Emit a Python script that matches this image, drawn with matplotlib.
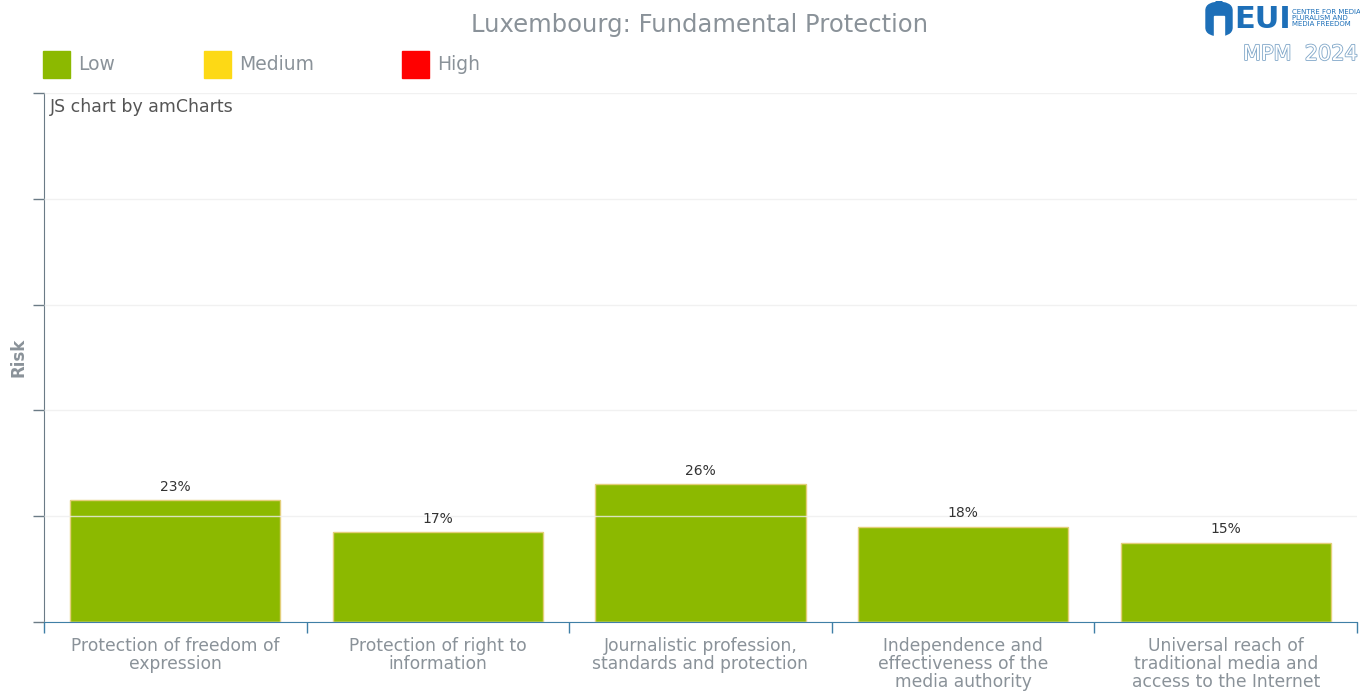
import matplotlib
matplotlib.use('agg')

import matplotlib.pyplot as plt
import matplotlib.ticker as ticker
import matplotlib.patches as mpatches
import matplotlib.patheffects as patheffects
import numpy as np

title = 'Luxembourg: Fundamental Protection'
categories = ['Protection of freedom of\nexpression',
              'Protection of right to\ninformation',
              'Journalistic profession,\nstandards and protection',
              'Independence and\neffectiveness of the\nmedia authority',
              'Universal reach of\ntraditional media and\naccess to the Internet']
risk = [23, 17, 26, 18, 15]
legend_labels = ['Low', 'Medium', 'High']
legend_colors = ['#8cb900', '#fdd915', '#ff0000']


def main():
    fig = plt.figure(figsize=(13.6, 6.92), dpi=100)
    ax = fig.add_axes([44/1360, 70/692, 1313/1360, 529/692])

    x = np.arange(len(risk))
    ax.bar(x, risk, width=0.8, color='#8cb900', edgecolor='#e3cf7a',
           linewidth=1, zorder=2)
    for xi, v in zip(x, risk):
        ax.text(xi, v + 1.2, '%d%%' % v, ha='center', va='bottom',
                fontsize=10, color='#333333')

    ax.set_xlim(-0.5, len(risk) - 0.5)
    ax.set_ylim(0, 100)

    # gridlines sit on top of the bars
    ax.yaxis.set_major_locator(ticker.MultipleLocator(20))
    ax.grid(axis='y', color='#eeeeee', linewidth=1, alpha=0.8, zorder=3)
    ax.set_axisbelow(False)
    ax.yaxis.set_major_formatter(ticker.NullFormatter())
    ax.tick_params('y', length=8, width=1, color='#6b7b86', direction='out')

    # category labels centred, ticks at the boundaries
    ax.xaxis.set_major_locator(ticker.FixedLocator(x))
    ax.xaxis.set_minor_locator(ticker.FixedLocator(np.arange(-0.5, len(risk), 1.0)))
    ax.set_xticklabels(categories, fontsize=12.3, color='#8a9299', linespacing=0.98)
    ax.tick_params('x', which='major', length=0, pad=11)
    ax.tick_params('x', which='minor', length=8, width=1, color='#3f7fa6',
                   direction='out')

    for s in ['top', 'right']:
        ax.spines[s].set_visible(False)
    ax.spines['left'].set_color('#6b7b86')
    ax.spines['bottom'].set_color('#3f7fa6')
    ax.spines['bottom'].set_zorder(4)

    ax.set_ylabel('Risk', fontsize=12, fontweight='bold', color='#8a9299')
    ax.yaxis.set_label_coords(-17/1313, 0.5)
    ax.text(6/1313, 1 - 14/529, 'JS chart by amCharts', transform=ax.transAxes,
            fontsize=12.5, color='#555555', va='center')

    fig.text(700/1360, 1 - 25/692, title, ha='center', va='center',
             fontsize=17.5, color='#8a9299')

    # legend row
    lx = [43, 204, 402]
    for px, lab, col in zip(lx, legend_labels, legend_colors):
        fig.patches.append(mpatches.Rectangle((px/1360, 1 - 78/692), 27/1360, 27/692,
                           transform=fig.transFigure, color=col, figure=fig))
        fig.text((px + 35)/1360, 1 - 64/692, lab, fontsize=13.5,
                 color='#8a9299', va='center')

    # logo
    fig.patches.append(mpatches.FancyBboxPatch((1206/1360, 1 - 36/692), 26/1360, 34/692,
                       boxstyle='round,pad=0,rounding_size=0.012',
                       transform=fig.transFigure, color='#1d6fb8', figure=fig))
    fig.patches.append(mpatches.Rectangle((1214/1360, 1 - 36/692), 10/1360, 20/692,
                       transform=fig.transFigure, color='white', figure=fig))
    fig.text(1234/1360, 1 - 19/692, 'EUI', fontsize=22, fontweight='bold',
             color='#1d6fb8', va='center')
    fig.text(1292/1360, 1 - 18/692, 'CENTRE FOR MEDIA\nPLURALISM AND\nMEDIA FREEDOM',
             fontsize=5, color='#1d6fb8', va='center', linespacing=1.0)
    fig.text(1243/1360, 1 - 54/692, 'MPM  2024', fontsize=15, color='white',
             va='center', path_effects=[
                 patheffects.withStroke(linewidth=1.2, foreground='#7fa6c8')])

    fig.savefig('out.png', dpi=100)


if __name__ == "__main__":
    main()
